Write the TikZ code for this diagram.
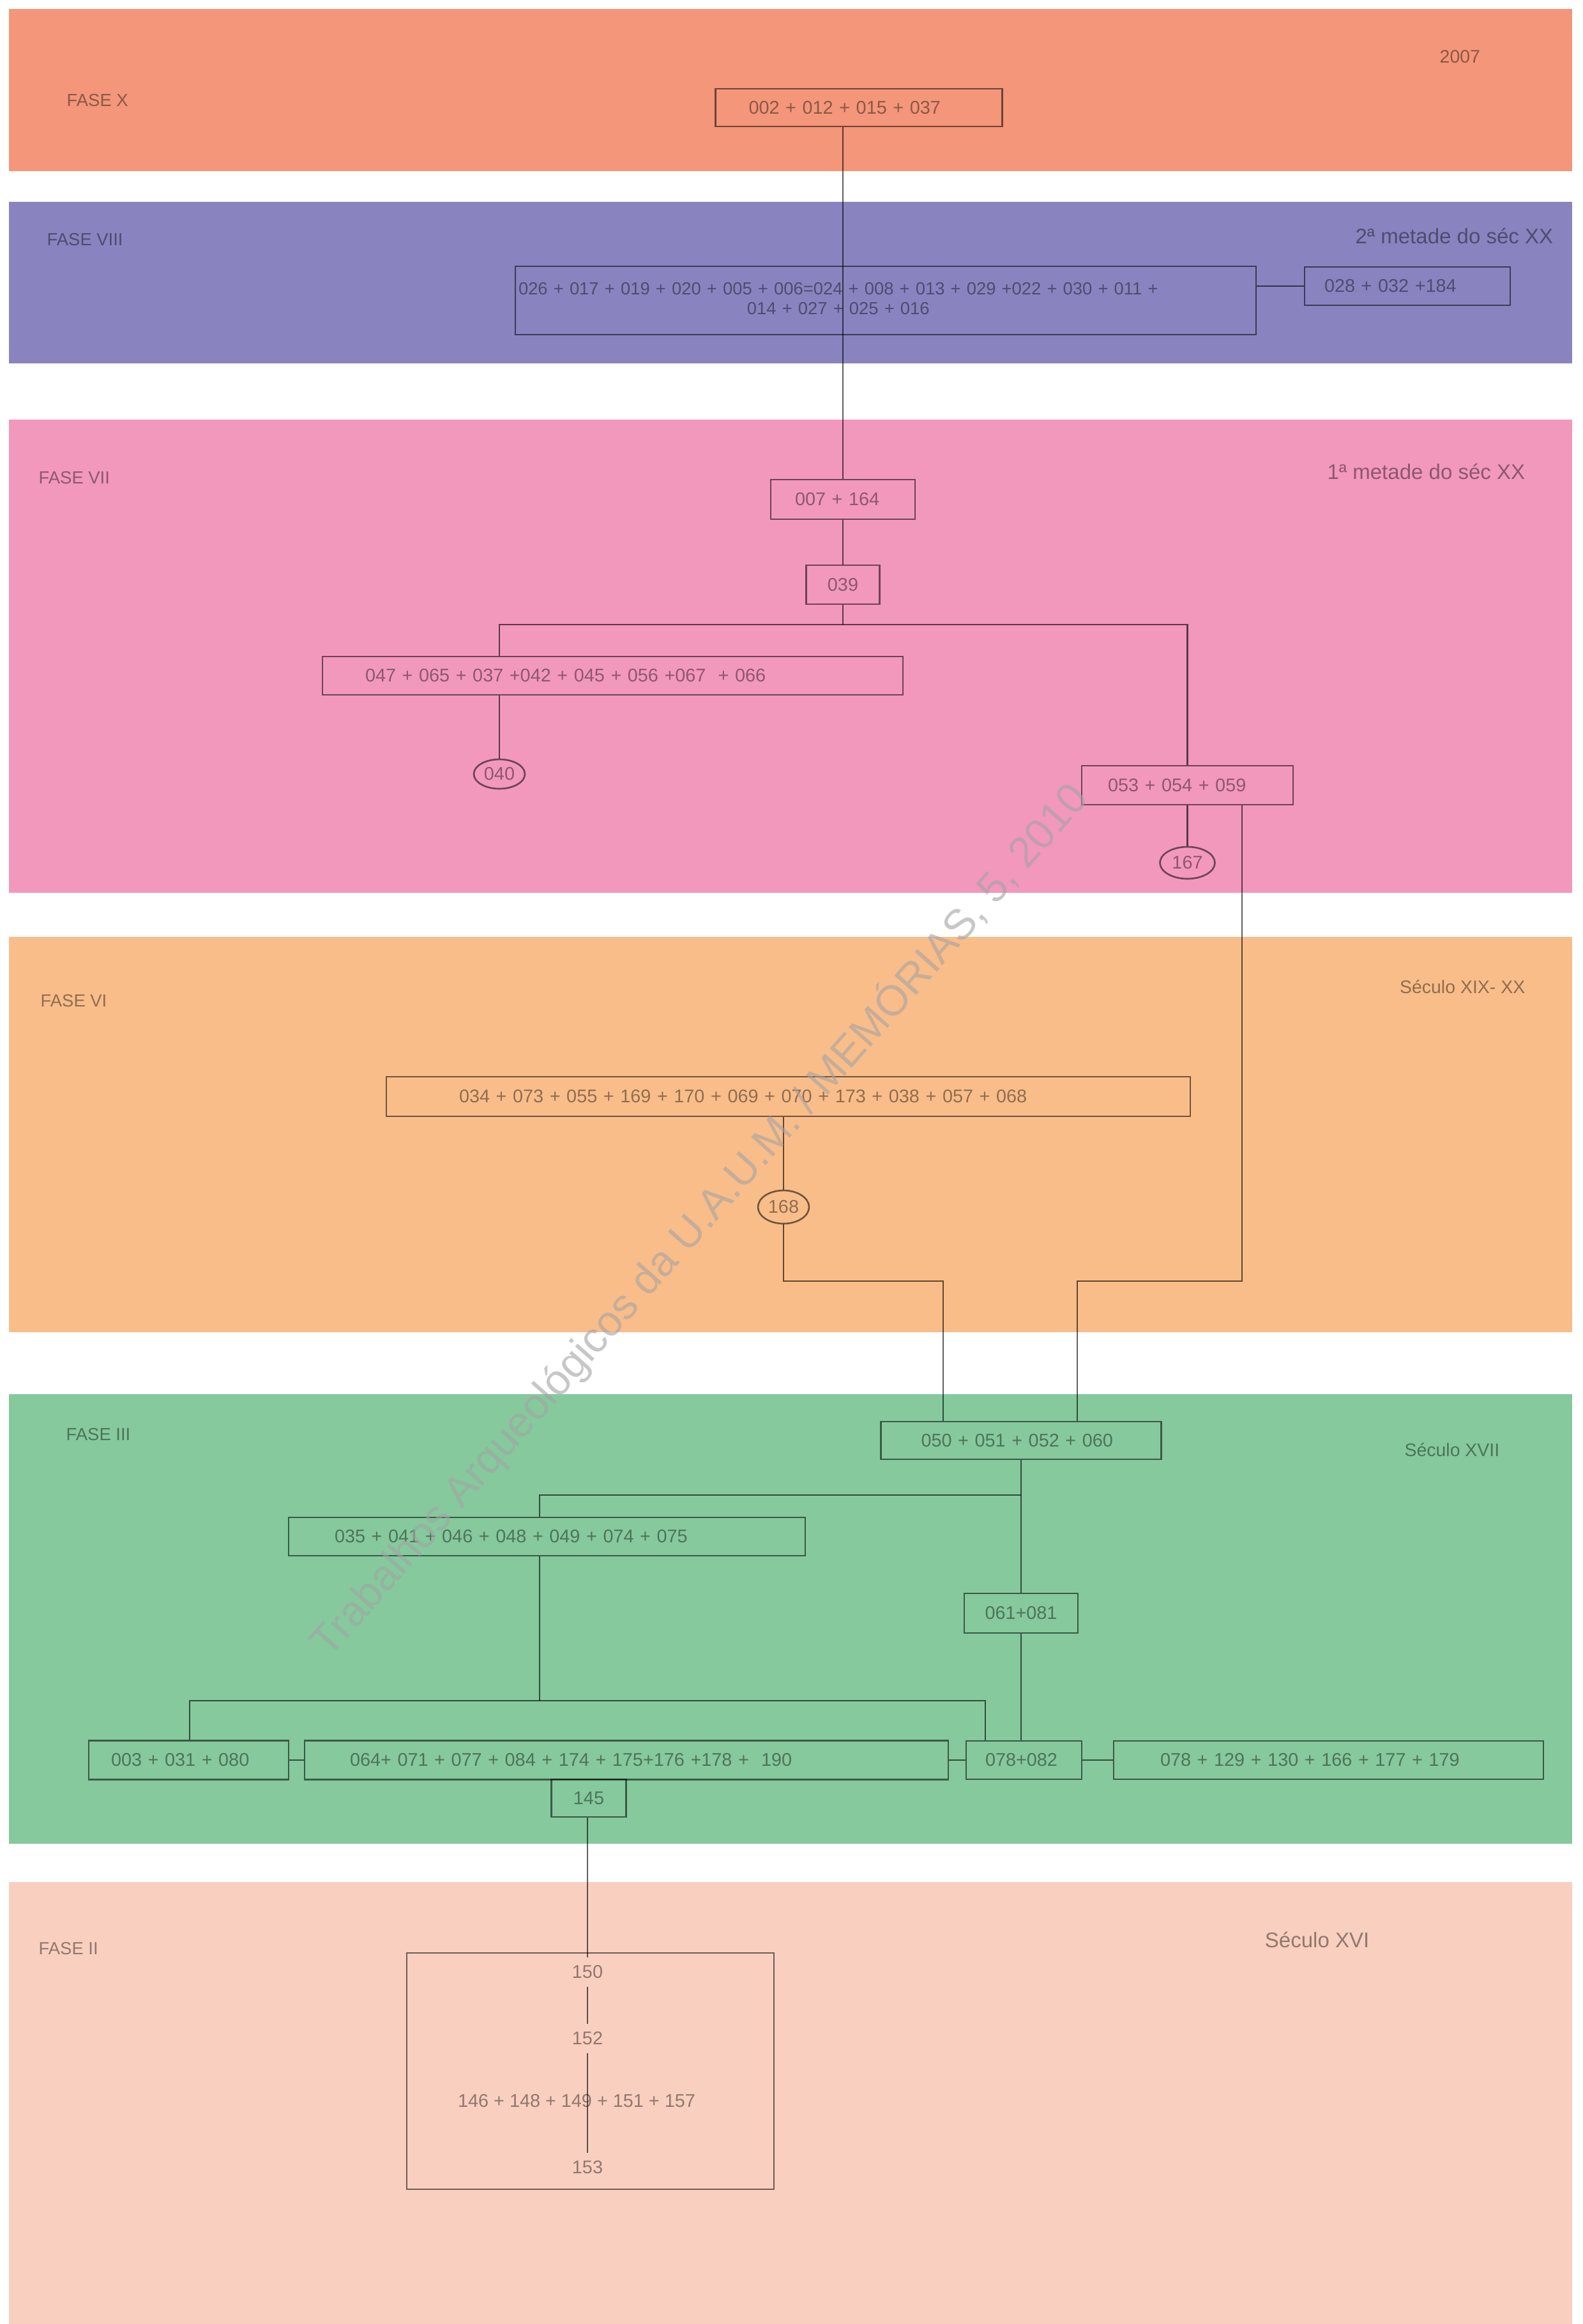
\documentclass[tikz,border=0pt]{standalone}
\usepackage{fontspec}
\setmainfont{Liberation Sans}
\usepackage{tikz}
\usetikzlibrary{shapes.geometric}
\pgfdeclarelayer{bg}
\pgfsetlayers{bg,main}
\definecolor{faseX}{RGB}{243,150,122}
\definecolor{faseVIII}{RGB}{137,132,192}
\definecolor{faseVII}{RGB}{242,152,188}
\definecolor{faseVI}{RGB}{249,189,138}
\definecolor{faseIII}{RGB}{133,201,156}
\definecolor{faseII}{RGB}{249,207,191}
\newcommand{\cellfont}{\fontsize{8.2}{8.8}\selectfont}
\newcommand{\cellsmallfont}{\fontsize{7.8}{8.8}\selectfont}
\newcommand{\fasefont}{\fontsize{7.8}{9}\selectfont}
\newcommand{\datefont}{\fontsize{8.1}{9}\selectfont}
\newcommand{\datebigfont}{\fontsize{9.4}{11}\selectfont}
\newcommand{\markfont}{\fontsize{19}{22}\selectfont}
\tikzset{
    unit/.style={rectangle, draw=black!55, line width=.75pt, inner ysep=0pt,
    	text=black!42, font=\cellfont},
    ring/.style={ellipse, draw=black!55, line width=.75pt, inner sep=0pt,
    	text=black!42, font=\cellfont},
    plain/.style={text=black!42, font=\cellfont},
    tag/.style={text=black!42, font=\fasefont, inner sep=0pt},
    link/.style={draw=black!62, line width=.7pt}
}

\begin{document}
\begin{tikzpicture}
  \useasboundingbox (0cm,0cm) rectangle (24.78cm,-36.39cm);

  \begin{pgfonlayer}{bg}
	  \fill[white] (0cm,0cm) rectangle (24.78cm,-36.39cm);
	  \fill[faseX] (0.14cm,-0.14cm) rectangle (24.62cm,-2.68cm);
	  \fill[faseVIII] (0.14cm,-3.16cm) rectangle (24.62cm,-5.69cm);
	  \fill[faseVII] (0.14cm,-6.57cm) rectangle (24.62cm,-13.98cm);
	  \fill[faseVI] (0.14cm,-14.67cm) rectangle (24.62cm,-20.86cm);
	  \fill[faseIII] (0.14cm,-21.83cm) rectangle (24.62cm,-28.87cm);
	  \fill[faseII] (0.14cm,-29.47cm) rectangle (24.62cm,-36.39cm);
  \end{pgfonlayer}

  \begin{scope}[blend mode=multiply]
  % phase and date labels
  \node (faseX) [tag, anchor=west] at (1.04cm, -1.57cm) {FASE X};
  \node (dateX) [tag, font=\datefont, anchor=west] at (22.54cm, -0.89cm) {2007};
  \node (faseVIII) [tag, anchor=west] at (0.73cm, -3.75cm) {FASE VIII};
  \node (dateVIII) [tag, font=\datebigfont, anchor=east] at (24.33cm, -3.69cm) {2ª metade do séc XX};
  \node (faseVII) [tag, anchor=west] at (0.60cm, -7.48cm) {FASE VII};
  \node (dateVII) [tag, font=\datebigfont, anchor=east] at (23.89cm, -7.38cm) {1ª metade do séc XX};
  \node (faseVI) [tag, anchor=west] at (0.63cm, -15.67cm) {FASE VI};
  \node (dateVI) [tag, font=\datefont, anchor=east] at (23.89cm, -15.45cm) {Século XIX- XX};
  \node (faseIII) [tag, anchor=west] at (1.03cm, -22.46cm) {FASE III};
  \node (dateIII) [tag, font=\datefont, anchor=east] at (23.49cm, -22.70cm) {Século XVII};
  \node (faseII) [tag, anchor=west] at (0.60cm, -30.51cm) {FASE II};
  \node (dateII) [tag, font=\datebigfont, anchor=east] at (21.45cm, -30.37cm) {Século XVI};

  % units
  \node (u002) [unit, minimum height=.59cm, inner xsep=.52cm, text width=3.45cm, align=left] at (13.45cm, -1.685cm) {002 + 012 + 015 + 037};
  \node (u026) [unit, font=\cellsmallfont, minimum height=1.07cm, inner xsep=.05cm, text width=11.50cm, align=left] at (13.87cm, -4.705cm)
  	{\begin{tabular}{@{}c@{}}026 + 017 + 019 + 020 + 005 + 006=024 + 008 + 013 + 029 +022 + 030 + 011 +\\014 + 027 + 025 + 016\end{tabular}};
  \node (u028) [unit, minimum height=.60cm, inner xsep=.31cm, text width=2.60cm, align=left] at (22.04cm, -4.48cm) {028 + 032 +184};
  \node (u007) [unit, minimum height=.62cm, inner xsep=.38cm, text width=1.50cm, align=left] at (13.20cm, -7.82cm) {007 + 164};
  \node (u039) [unit, minimum width=1.15cm, minimum height=.61cm] at (13.20cm, -9.155cm) {039};
  \node (u047) [unit, minimum height=.60cm, inner xsep=.67cm, text width=7.75cm, align=left] at (9.595cm, -10.58cm) {047 + 065 + 037 +042 + 045 + 056 +067 \ + 066};
  \node (u040) [ring, minimum width=.80cm, minimum height=.46cm] at (7.82cm, -12.12cm) {040};
  \node (u053) [unit, minimum height=.61cm, inner xsep=.41cm, text width=2.49cm, align=left] at (18.595cm, -12.295cm) {053 + 054 + 059};
  \node (u167) [ring, minimum width=.86cm, minimum height=.50cm] at (18.595cm, -13.51cm) {167};
  \node (u034) [unit, minimum height=.62cm, inner xsep=1.14cm, text width=10.31cm, align=left] at (12.345cm, -17.17cm) {034 + 073 + 055 + 169 + 170 + 069 + 070 + 173 + 038 + 057 + 068};
  \node (u168) [ring, minimum width=.80cm, minimum height=.52cm] at (12.27cm, -18.90cm) {168};
  \node (u050) [unit, minimum height=.59cm, inner xsep=.63cm, text width=3.13cm, align=left] at (15.99cm, -22.555cm) {050 + 051 + 052 + 060};
  \node (u035) [unit, minimum height=.60cm, inner xsep=.72cm, text width=6.65cm, align=left] at (8.565cm, -24.06cm) {035 + 041 + 046 + 048 + 049 + 074 + 075};
  \node (u061) [unit, minimum width=1.78cm, minimum height=.62cm] at (15.99cm, -25.26cm) {061+081};
  \node (u003) [unit, minimum height=.61cm, inner xsep=.35cm, text width=2.43cm, align=left] at (2.955cm, -27.56cm) {003 + 031 + 080};
  \node (u064) [unit, minimum height=.61cm, inner xsep=.71cm, text width=8.66cm, align=left] at (9.81cm, -27.56cm) {064+ 071 + 077 + 084 + 174 + 175+176 +178 + \ 190};
  \node (u078) [unit, minimum height=.60cm, inner xsep=.30cm, text width=1.21cm, align=left] at (16.035cm, -27.56cm) {078+082};
  \node (u129) [unit, minimum height=.60cm, inner xsep=.73cm, text width=5.27cm, align=left] at (20.805cm, -27.56cm) {078 + 129 + 130 + 166 + 177 + 179};
  \node (u145) [unit, minimum width=1.17cm, minimum height=.59cm] at (9.22cm, -28.155cm) {145};
  \node (blockII) [unit, minimum width=5.75cm, minimum height=3.70cm] at (9.245cm, -32.43cm) {};
  \node (u150) [plain] at (9.20cm, -30.88cm) {150};
  \node (u152) [plain] at (9.20cm, -31.92cm) {152};
  \node (u146) [plain] at (9.03cm, -32.90cm) {146 + 148 + 149 + 151 + 157};
  \node (u153) [plain] at (9.20cm, -33.94cm) {153};

  % junctions
  \coordinate (j7) at (13.20cm, -9.78cm);
  \coordinate (j7w) at (7.82cm, -9.78cm);
  \coordinate (k6e) at (19.45cm, -20.06cm);
  \coordinate (k6w) at (16.87cm, -20.06cm);
  \coordinate (k6a) at (12.27cm, -20.06cm);
  \coordinate (k6b) at (14.77cm, -20.06cm);
  \coordinate (k3a) at (15.99cm, -23.41cm);
  \coordinate (k3b) at (8.45cm, -23.41cm);
  \coordinate (k3c) at (8.45cm, -26.63cm);
  \coordinate (k3d) at (2.97cm, -26.63cm);
  \coordinate (k3e) at (15.43cm, -26.63cm);

  \draw[link] (u002.south -| u007) -- (u007.north);
  \draw[link] (u026.east |- u028.west) -- (u028.west);
  \draw[link] (u007) edge (u039);
  \draw[link] (u039.south) -- (j7);
  \draw[link] (j7w |- u047.north) -- (j7w) -| (u053.north);
  \draw[link] (u047.south -| u040) -- (u040.north);
  \draw[link] (u053) edge (u167);
  \draw[link] (u053.south -| k6e) -- (k6e) -- (k6w) -- (k6w |- u050.north);
  \draw[link] (u034.south -| u168) -- (u168.north);
  \draw[link] (u168.south) -- (k6a) -- (k6b) -- (k6b |- u050.north);
  \draw[link] (u050) edge (u061);
  \draw[link] (k3a) -- (k3b) -- (k3b |- u035.north);
  \draw[link] (k3b |- u035.south) -- (k3c);
  \draw[link] (k3d |- u003.north) -- (k3d) -- (k3e) -- (k3e |- u078.north);
  \draw[link] (u061.south) -- (u061.south |- u078.north);
  \draw[link] (u003) edge (u064); \draw[link] (u064) edge (u078); \draw[link] (u078) edge (u129);
  \draw[link] (u145.south -| u150) -- (u150.north);
  \draw[link] (u150) edge (u152); \draw[link] (u152) edge (u153);
  \end{scope}

  \node (mark) [rotate=48.5, text=black!36, opacity=.6, font=\markfont] at (10.95cm, -19.10cm)
  	{Trabalhos Arqueológicos da U.A.U.M. / MEMÓRIAS, 5, 2010};

\end{tikzpicture}
\end{document}
